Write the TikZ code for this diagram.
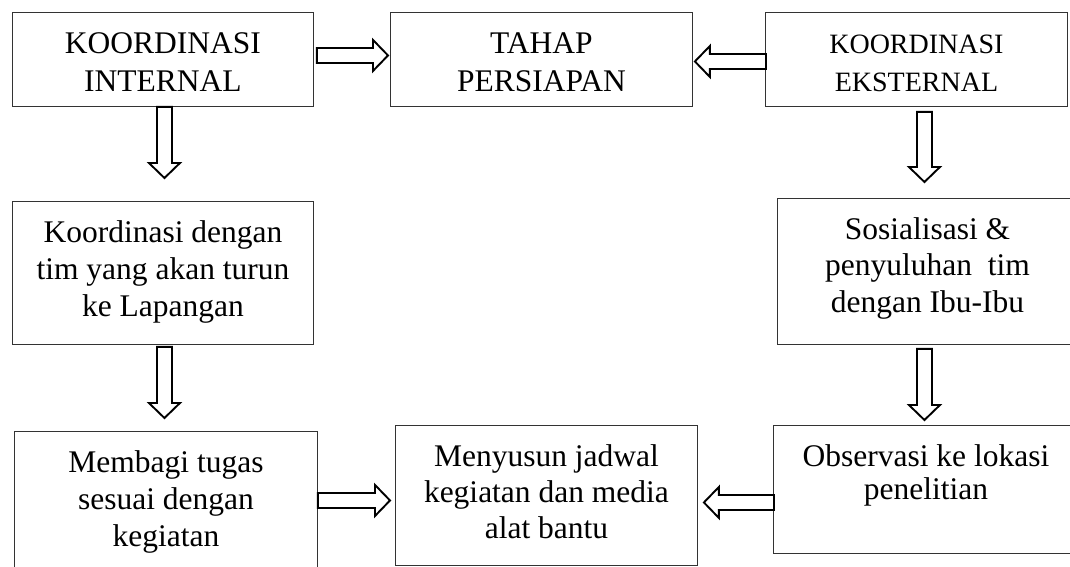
\documentclass[tikz,border=0pt]{standalone}
\usepackage{fontspec}
\setmainfont{Liberation Serif}
\usetikzlibrary{calc}
\tikzset{
  box/.style={draw=black!80, line width=0.9pt, inner sep=0pt, anchor=north west},
  barrow/.style={draw=black, line width=1.9pt, fill=white, line join=miter}
}
\newcommand\bxt[5]{\parbox[c][#2pt][t]{#1pt}{\centering\fontsize{#3}{#4}\selectfont\rule{0pt}{41pt}#5}}
\newcommand\blockarrow[2]{%
  \coordinate (ba-t) at (#1);
  \coordinate (ba-h) at (#2);
  \coordinate (ba-b) at ($(ba-h)!15pt!(ba-t)$);
  \draw[barrow] ($(ba-t)!7.5pt!90:(ba-h)$) -- ($(ba-b)!7.5pt!90:(ba-h)$) -- ($(ba-b)!15.5pt!90:(ba-h)$)
    -- (ba-h) -- ($(ba-b)!15.5pt!-90:(ba-h)$) -- ($(ba-b)!7.5pt!-90:(ba-h)$) -- ($(ba-t)!7.5pt!-90:(ba-h)$) -- cycle;
}
\begin{document}
\begin{tikzpicture}[x=1pt,y=-1pt]
\useasboundingbox (0,0) rectangle (1070,566);
\clip (0,0) rectangle (1070,566);
\fill[white] (0,0) rectangle (1070,566);
\node[box] (n1) at (12,12) {\bxt{301}{94}{31.5}{38.5}{KOORDINASI\\INTERNAL}};
\node[box] (n2) at (390,12) {\bxt{302}{94}{31.5}{38.5}{TAHAP\\PERSIAPAN}};
\node[box] (n3) at (765,12) {\bxt{302}{94}{28}{38}{KOORDINASI\\EKSTERNAL}};
\node[box] (n4) at (12,201) {\bxt{301}{143}{31.5}{37}{Koordinasi dengan\\tim yang akan turun\\ke Lapangan}};
\node[box] (n5) at (777,198) {\bxt{300}{146}{31.5}{36.5}{Sosialisasi \&\\penyuluhan~ tim\\dengan Ibu-Ibu}};
\node[box] (n6) at (14,431) {\bxt{303}{150}{31.5}{37}{Membagi tugas\\sesuai dengan\\kegiatan}};
\node[box] (n7) at (395,425) {\bxt{302}{140}{31.5}{36}{Menyusun jadwal\\kegiatan dan media\\alat bantu}};
\node[box] (n8) at (773,425) {\bxt{305}{128}{31.5}{33}{Observasi ke lokasi\\penelitian}};
\blockarrow{$(n1.east)+(3,-4)$}{$(n2.west)+(-2,-4)$}
\blockarrow{$(n3.west)+(1,2)$}{$(n2.east)+(2,2)$}
\blockarrow{$(n1.south)+(1.5,0)$}{$(n4.north)+(1.5,-23)$}
\blockarrow{$(n3.south)+(8,5)$}{$(n5.north)+(-3,-16)$}
\blockarrow{$(n4.south)+(1.5,2)$}{$(n6.north)+(-1.5,-13)$}
\blockarrow{$(n5.south)+(-3,4)$}{$(n8.north)+(-1.5,-5)$}
\blockarrow{$(n6.east)+(0,-6)$}{$(n7.west)+(-5,5)$}
\blockarrow{$(n8.west)+(1,13)$}{$(n7.east)+(6,7)$}
\end{tikzpicture}
\end{document}
